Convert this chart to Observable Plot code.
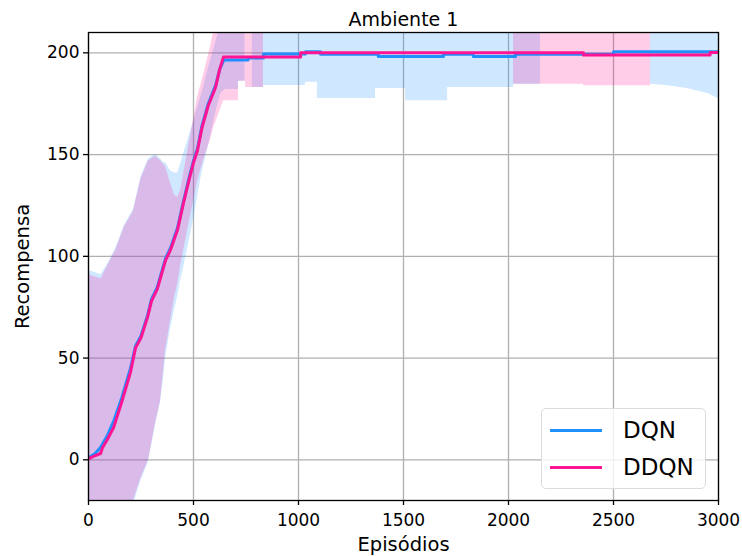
<!DOCTYPE html>
<html>
<head>
<meta charset="utf-8">
<script src="https://cdn.jsdelivr.net/npm/d3@7"></script>
<script src="https://cdn.jsdelivr.net/npm/@observablehq/plot@0.6"></script>
<style>
  body { margin: 0; background: #fff; }
  #wrap { position: relative; width: 742px; height: 556px; font-family: "DejaVu Sans", sans-serif; }
  #legend { position: absolute; left: 541px; top: 408px; width: 165px; height: 81px;
            border: 1px solid #dcdcdc; border-radius: 5px; background: rgba(255,255,255,0.8); box-sizing: border-box; }
  .row { position: absolute; left: 0; height: 30px; width: 100%; }
  .sw { position: absolute; left: 8px; width: 52px; height: 3px; top: 13px; }
  .lbl { position: absolute; left: 81px; top: 0; font-size: 23px; line-height: 28px; color: #000; }
</style>
</head>
<body>
<div id="wrap"></div>
<script>
// ---- data ----
const title = "Ambiente 1";
const xLabel = "Episódios";
const yLabel = "Recompensa";
const seriesNames = ["DQN", "DDQN"];
const seriesColors = ["#1e90ff", "#ff1493"];
const xTicks = [0, 500, 1000, 1500, 2000, 2500, 3000];
const yTicks = [0, 50, 100, 150, 200];

// DQN mean curve
const dqnX = [0, 30, 57, 90, 120, 160, 200, 224, 250, 281, 300, 328, 350, 367, 390, 424, 452, 480, 500, 519, 540, 570, 605, 625, 645, 760, 760, 833, 833, 1033, 1033, 1105, 1105, 1380, 1380, 1690, 1690, 1833, 1833, 2033, 2033, 2500, 2500, 3000];
const dqnY = [1, 3, 6, 12, 19, 31, 45, 56, 61, 71, 79, 85, 93, 99, 104, 114, 127, 139, 147, 153, 164, 175, 184, 192, 196.5, 196.5, 197.5, 197.5, 199.4, 199.4, 200.6, 200.6, 199.3, 199.3, 198.2, 198.2, 199.3, 199.3, 198.2, 198.2, 199.3, 199.3, 200.6, 200.6];

// DDQN mean curve
const ddqnX = [0, 30, 57, 67, 90, 120, 160, 200, 224, 250, 281, 300, 328, 350, 367, 390, 424, 452, 480, 500, 519, 540, 570, 605, 625, 643, 1010, 1010, 2357, 2357, 2960, 2960, 3000];
const ddqnY = [0.5, 2, 3, 6, 10, 16, 29, 43, 55, 60, 70, 78, 84, 92, 98, 103, 113, 126, 138, 146, 152, 163, 174, 183, 192, 198, 198, 200, 200, 199, 199, 200.2, 200.2];

// DQN spread band (segments)
const dqnBandSeg = [0,0,0,0,0,0,0,0,0,0,0,0,0,0,0,0,0,0,0,0,0,0,0,0,0,0,0,0,0,0, 1,1,1,1,1,1,1,1,1,1,1,1,1,1,1,1, 2,2,2,2,2];
const dqnBandX  = [0, 30, 60, 90, 130, 170, 214, 250, 286, 319, 343, 357, 367, 390, 410, 424, 438, 452, 470, 500, 510, 540, 570, 600, 619, 630, 650, 714, 714, 745,
                   780, 833, 833, 1033, 1033, 1090, 1090, 1367, 1367, 1510, 1510, 1710, 1710, 2024, 2024, 2152,
                   2676, 2750, 2850, 2950, 3000];
const dqnBandLo = [-110, -100, -90, -72, -52, -37, -22, -10, -1, 17, 28, 40, 50, 64, 74, 80, 88, 94, 103, 118, 124, 141, 154, 168, 176, 180, 182, 182, 186, 186,
                   183, 183, 184, 184, 185.5, 185.5, 177.6, 177.6, 182.5, 182.5, 176.5, 176.5, 183, 183, 184.6, 184.6,
                   184.6, 184, 182.5, 180, 177.5];
const dqnBandHi = [93, 92, 91, 96, 104, 115, 123, 139, 148, 150, 148, 146, 146, 142, 141, 141, 145, 150, 156, 166, 170, 180, 192, 203, 210, 214, 225, 230, 230, 230,
                   230, 230, 230, 230, 230, 230, 230, 230, 230, 230, 230, 230, 230, 230, 230, 230,
                   230, 230, 230, 230, 230];

// DDQN spread band (segments)
const ddqnBandSeg = [0,0,0,0,0,0,0,0,0,0,0,0,0,0,0,0,0,0,0,0,0,0,0,0,0,0,0,0,0, 1,1,1,1];
const ddqnBandX  = [0, 30, 60, 90, 130, 170, 214, 250, 286, 319, 343, 367, 390, 410, 424, 438, 470, 500, 519, 550, 581, 595, 614, 643, 714, 714, 748, 748, 833,
                    2024, 2357, 2357, 2676];
const ddqnBandLo = [-110, -100, -90, -70, -50, -35, -20, -9, 0, 18, 29, 54, 68, 80, 86, 95, 112, 127, 137, 148, 157, 163, 168, 176.5, 176.5, 186, 186, 183, 183,
                    184.6, 184.6, 183.8, 183.8];
const ddqnBandHi = [91, 90, 89, 95, 103, 114, 122, 138, 147, 149, 147, 144, 136, 130, 129, 132, 150, 167, 178, 190, 203, 210, 214, 225, 230, 230, 230, 230, 230,
                    230, 230, 230, 230];

// ---- build tables ----
const toLine = (xs, ys) => xs.map((x, i) => ({x, y: ys[i]}));
const toBand = (seg, xs, lo, hi) => xs.map((x, i) => ({seg: seg[i], x, lo: lo[i], hi: hi[i]}));
const dqn = toLine(dqnX, dqnY);
const ddqn = toLine(ddqnX, ddqnY);
const dqnBand = toBand(dqnBandSeg, dqnBandX, dqnBandLo, dqnBandHi);
const ddqnBand = toBand(ddqnBandSeg, ddqnBandX, ddqnBandLo, ddqnBandHi);

const grid = {stroke: "#b0b0b0", strokeOpacity: 1, strokeWidth: 1.3};

const chart = Plot.plot({
  width: 742,
  height: 556,
  marginLeft: 88,
  marginRight: 24,
  marginTop: 32,
  marginBottom: 56,
  style: {fontFamily: "DejaVu Sans", fontSize: "17px", color: "#000", background: "#fff", overflow: "visible"},
  x: {domain: [0, 3000]},
  y: {domain: [-20, 210]},
  marks: [
    Plot.gridX(xTicks, grid),
    Plot.gridY(yTicks, grid),
    Plot.areaY(dqnBand, {x: "x", y1: "lo", y2: "hi", z: "seg", fill: seriesColors[0], fillOpacity: 0.21, clip: true}),
    Plot.areaY(ddqnBand, {x: "x", y1: "lo", y2: "hi", z: "seg", fill: seriesColors[1], fillOpacity: 0.21, clip: true}),
    Plot.lineY(dqn, {x: "x", y: "y", stroke: seriesColors[0], strokeWidth: 3, clip: true}),
    Plot.lineY(ddqn, {x: "x", y: "y", stroke: seriesColors[1], strokeWidth: 3, clip: true}),
    Plot.frame({stroke: "#000", strokeWidth: 1.3}),
    Plot.axisX(xTicks, {tickSize: 5, tickPadding: 8, label: null, strokeWidth: 1.3, tickFormat: d => String(d)}),
    Plot.axisY(yTicks, {tickSize: 5, tickPadding: 4, label: null, strokeWidth: 1.3, tickFormat: d => String(d)}),
    Plot.text([title], {text: d => d, frameAnchor: "top", lineAnchor: "middle", dy: -13, fontSize: 19}),
    Plot.text([xLabel], {text: d => d, frameAnchor: "bottom", lineAnchor: "middle", dy: 44, fontSize: 19.5}),
    Plot.text([yLabel], {text: d => d, frameAnchor: "left", textAnchor: "middle", lineAnchor: "middle", dx: -66, rotate: -90, fontSize: 19.5})
  ]
});

const wrap = document.getElementById("wrap");
wrap.appendChild(chart);

// legend (HTML overlay)
const legend = document.createElement("div");
legend.id = "legend";
seriesNames.forEach((name, i) => {
  const row = document.createElement("div");
  row.className = "row";
  row.style.top = (i === 0 ? 7 : 44) + "px";
  const sw = document.createElement("div");
  sw.className = "sw";
  sw.style.background = seriesColors[i];
  const lbl = document.createElement("div");
  lbl.className = "lbl";
  lbl.textContent = name;
  row.appendChild(sw);
  row.appendChild(lbl);
  legend.appendChild(row);
});
wrap.appendChild(legend);
</script>
</body>
</html>
